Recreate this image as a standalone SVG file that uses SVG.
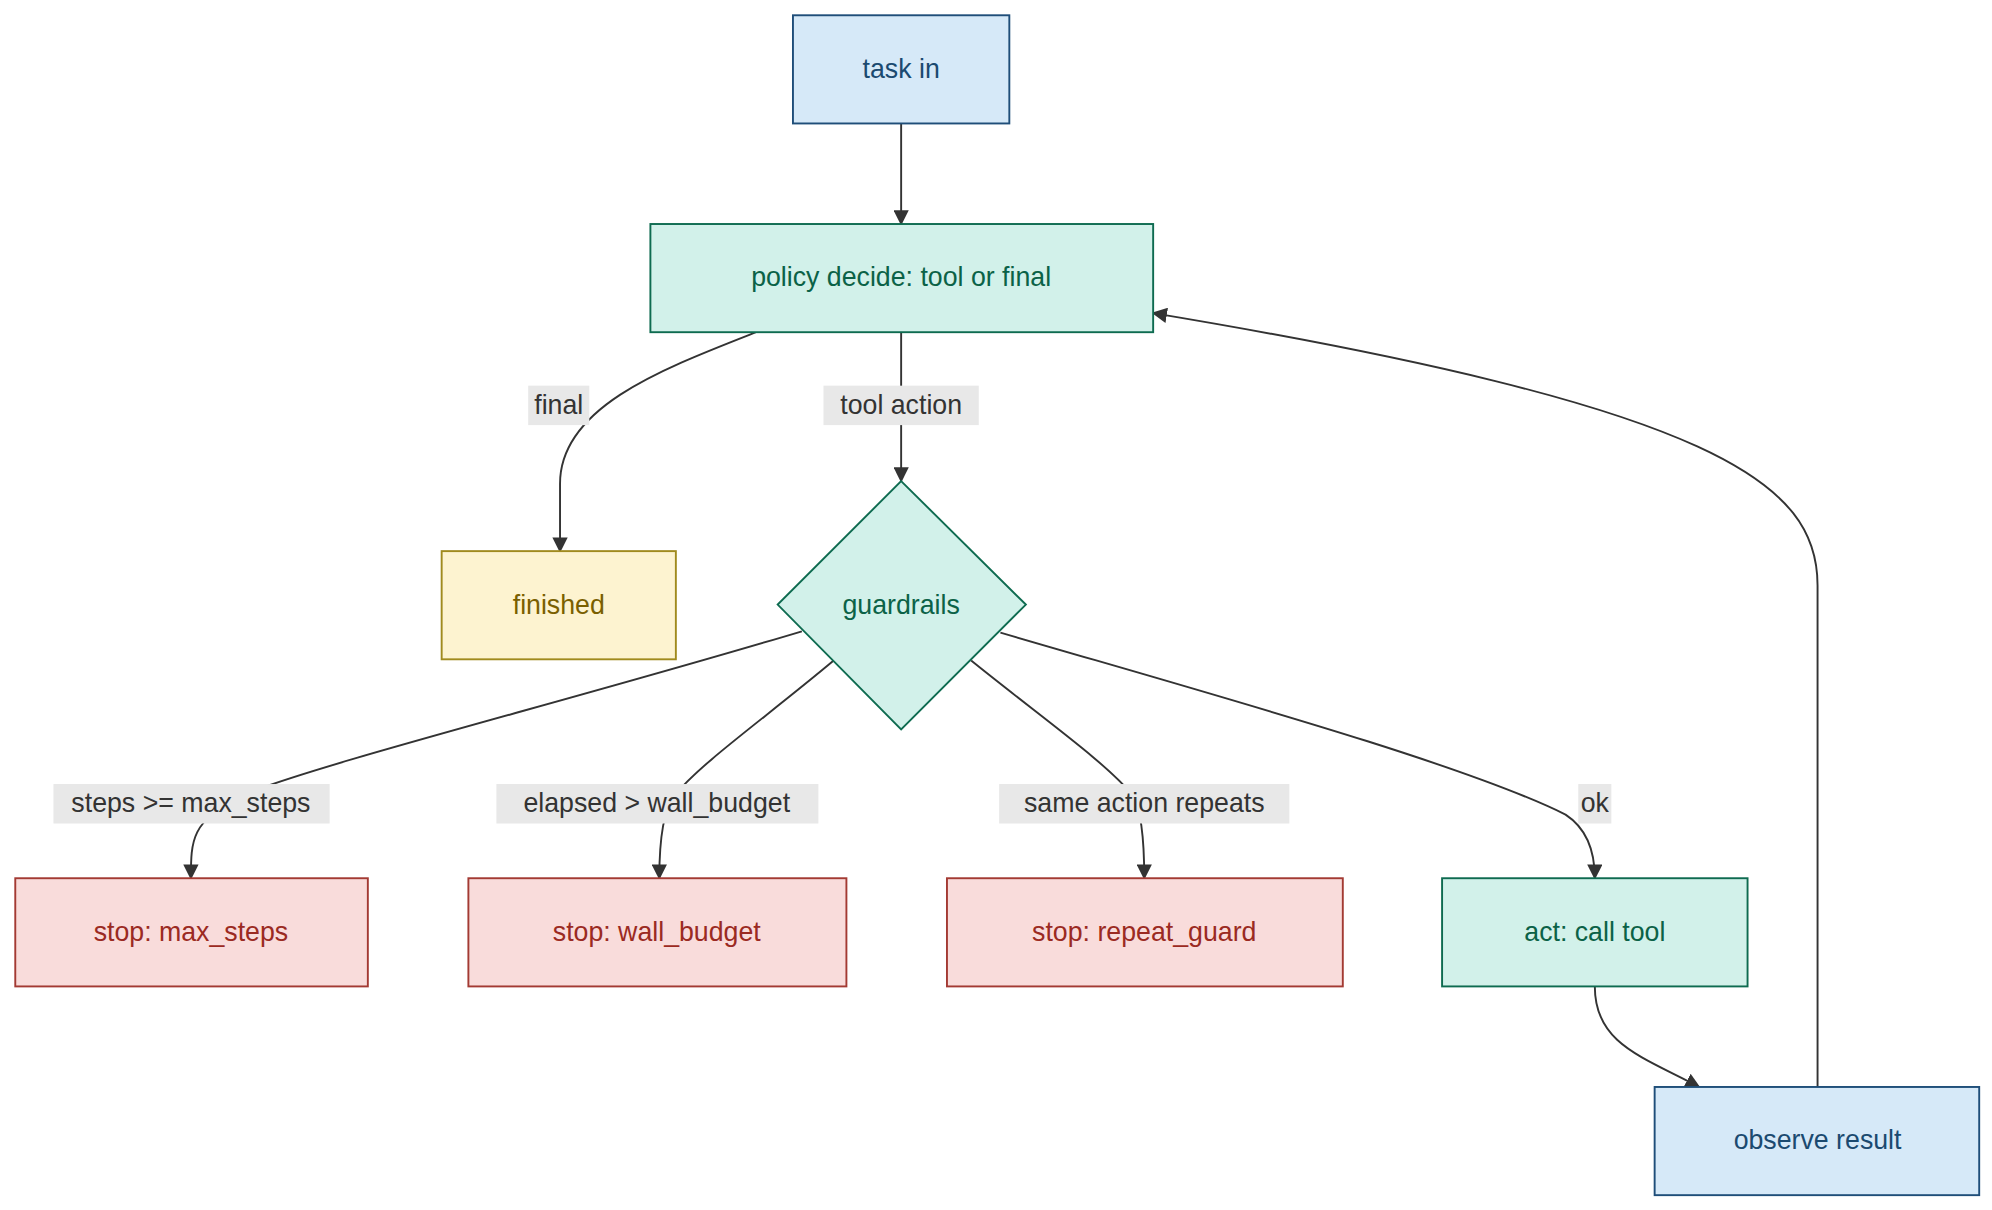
<svg xmlns="http://www.w3.org/2000/svg" width="1992" height="1210" viewBox="0 0 1992 1210">
<style>
text{font-family:"Trebuchet MS","Liberation Sans",Arial,sans-serif;font-size:21px;text-anchor:middle;dominant-baseline:central}
.b rect{fill:#d6e9f8;stroke:#1f4e79;stroke-width:1.5}.b text{fill:#1b4a70}
.g rect,.g polygon{fill:#d2f1ea;stroke:#0e6b50;stroke-width:1.5}.g text{fill:#0b6247}
.y rect{fill:#fdf3d0;stroke:#a08a1e;stroke-width:1.5}.y text{fill:#7a5f00}
.r rect{fill:#f9dcdb;stroke:#a33a33;stroke-width:1.5}.r text{fill:#9b2a22}
.e path{fill:none;stroke:#333;stroke-width:1.5;marker-end:url(#a)}
.l rect{fill:#e8e8e8}.l text{fill:#333}
</style>
<defs><marker id="a" viewBox="0 0 10 10" refX="9" refY="5" markerWidth="8" markerHeight="8" orient="auto"><path d="M0,0L10,5L0,10z" fill="#333"/></marker></defs>
<g transform="scale(1.2728)">
<g id="edges" class="e">
<path d="M708,97L708,176"/>
<path d="M594,261C520,290 440,320 440,380L440,433"/>
<path d="M708,261L708,378"/>
<path d="M630,496C450,550 250,600 190,625C150,645 150,660 150,690"/>
<path d="M655,519C600,565 550,600 530,625Q518,640 518,690"/>
<path d="M763,519C820,565 870,600 890,625Q899,640 899,690"/>
<path d="M786,497C950,545 1150,600 1230,640Q1253,655 1253,690"/>
<path d="M1253,775C1253,820 1290,830 1335,854"/>
<path d="M1428,854L1428,460C1428,380 1350,320 906,246"/>
</g>
<g id="labels" class="l">
<rect x="415" y="303" width="48" height="31"/><text x="439" y="318">final</text>
<rect x="647" y="303" width="122" height="31"/><text x="708" y="318">tool action</text>
<rect x="42" y="616" width="217" height="31"/><text x="150" y="631">steps &gt;= max_steps</text>
<rect x="390" y="616" width="253" height="31"/><text x="516" y="631">elapsed &gt; wall_budget</text>
<rect x="785" y="616" width="228" height="31"/><text x="899" y="631">same action repeats</text>
<rect x="1240" y="616" width="26" height="31"/><text x="1253" y="631">ok</text>
</g>
<g id="task" class="b"><rect x="623" y="12" width="170" height="85"/><text x="708" y="54">task in</text></g>
<g id="policy" class="g"><rect x="511" y="176" width="395" height="85"/><text x="708" y="218">policy decide: tool or final</text></g>
<g id="finished" class="y"><rect x="347" y="433" width="184" height="85"/><text x="439" y="475">finished</text></g>
<g id="guardrails" class="g"><polygon points="708,378 806,475 708,573 611,475"/><text x="708" y="475">guardrails</text></g>
<g id="maxsteps" class="r"><rect x="12" y="690" width="277" height="85"/><text x="150" y="732">stop: max_steps</text></g>
<g id="wall" class="r"><rect x="368" y="690" width="297" height="85"/><text x="516" y="732">stop: wall_budget</text></g>
<g id="repeat" class="r"><rect x="744" y="690" width="311" height="85"/><text x="899" y="732">stop: repeat_guard</text></g>
<g id="act" class="g"><rect x="1133" y="690" width="240" height="85"/><text x="1253" y="732">act: call tool</text></g>
<g id="observe" class="b"><rect x="1300" y="854" width="255" height="85"/><text x="1428" y="896">observe result</text></g>
</g>
</svg>
